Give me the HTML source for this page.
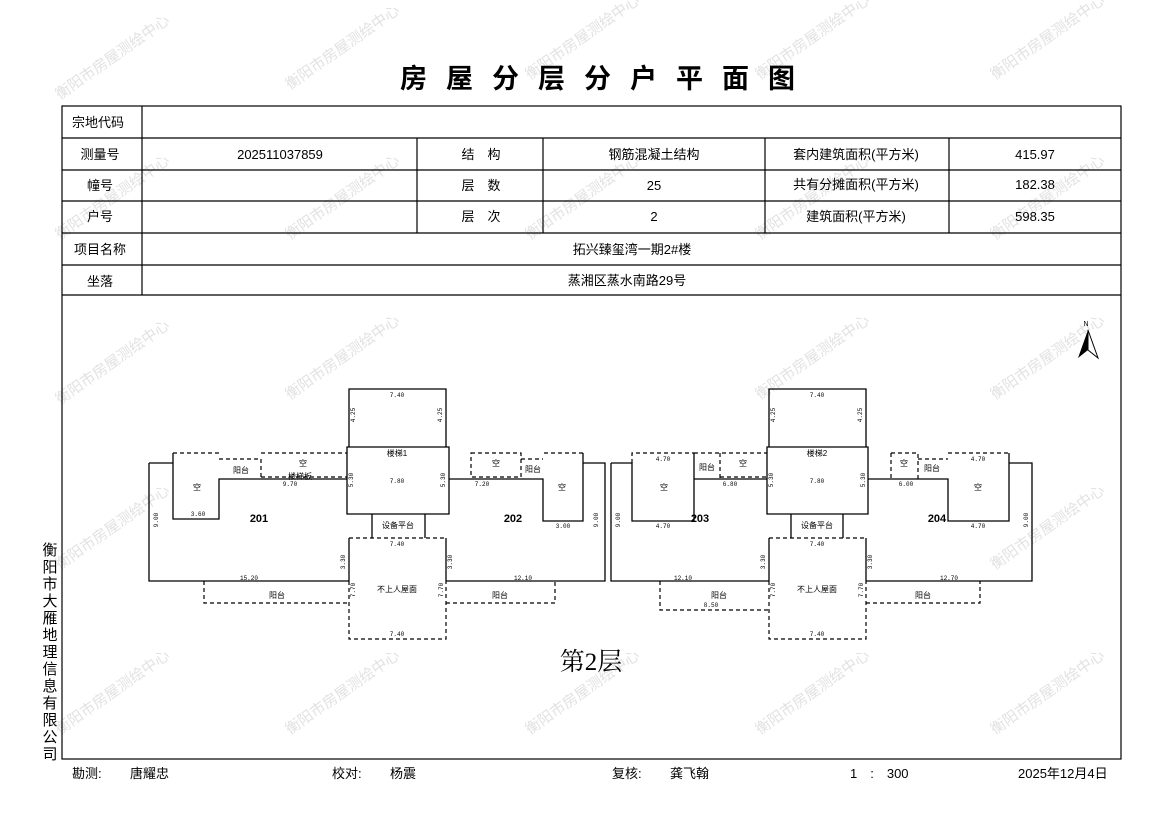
<!DOCTYPE html>
<html><head><meta charset="utf-8"><style>
html,body{margin:0;padding:0;background:#fff}
svg{display:block;font-family:"Liberation Sans","Noto Sans CJK SC",sans-serif}
.s{stroke:#000;stroke-width:1.3;fill:none}
.d{stroke:#000;stroke-width:1.2;fill:none;stroke-dasharray:4 3}
.t{font-size:13px;fill:#000}
.n{font-size:6px;fill:#000;font-family:"Liberation Mono",monospace}
.l{font-size:8px;fill:#000}
.w{font-size:15px;fill:#e2e2e2}
</style></head><body>
<svg width="1169" height="827" viewBox="0 0 1169 827" xmlns="http://www.w3.org/2000/svg">
<g class="w">
<text transform="translate(60,100) rotate(-35)">衡阳市房屋测绘中心</text>
<text transform="translate(290,90) rotate(-35)">衡阳市房屋测绘中心</text>
<text transform="translate(530,80) rotate(-35)">衡阳市房屋测绘中心</text>
<text transform="translate(760,80) rotate(-35)">衡阳市房屋测绘中心</text>
<text transform="translate(995,80) rotate(-35)">衡阳市房屋测绘中心</text>
<text transform="translate(60,240) rotate(-35)">衡阳市房屋测绘中心</text>
<text transform="translate(290,240) rotate(-35)">衡阳市房屋测绘中心</text>
<text transform="translate(530,240) rotate(-35)">衡阳市房屋测绘中心</text>
<text transform="translate(760,240) rotate(-35)">衡阳市房屋测绘中心</text>
<text transform="translate(995,240) rotate(-35)">衡阳市房屋测绘中心</text>
<text transform="translate(60,405) rotate(-35)">衡阳市房屋测绘中心</text>
<text transform="translate(290,400) rotate(-35)">衡阳市房屋测绘中心</text>
<text transform="translate(760,400) rotate(-35)">衡阳市房屋测绘中心</text>
<text transform="translate(995,400) rotate(-35)">衡阳市房屋测绘中心</text>
<text transform="translate(60,570) rotate(-35)">衡阳市房屋测绘中心</text>
<text transform="translate(995,570) rotate(-35)">衡阳市房屋测绘中心</text>
<text transform="translate(60,735) rotate(-35)">衡阳市房屋测绘中心</text>
<text transform="translate(290,735) rotate(-35)">衡阳市房屋测绘中心</text>
<text transform="translate(530,735) rotate(-35)">衡阳市房屋测绘中心</text>
<text transform="translate(760,735) rotate(-35)">衡阳市房屋测绘中心</text>
<text transform="translate(995,735) rotate(-35)">衡阳市房屋测绘中心</text>
</g>
<text x="607" y="88" text-anchor="middle" style="font-size:27px;font-weight:bold;letter-spacing:19px">房屋分层分户平面图</text>
<g stroke="#000" stroke-width="1.2" fill="none">
<rect x="62" y="106" width="1059" height="653"/>
<line x1="62" y1="138" x2="1121" y2="138"/><line x1="62" y1="170" x2="1121" y2="170"/>
<line x1="62" y1="201" x2="1121" y2="201"/><line x1="62" y1="233" x2="1121" y2="233"/>
<line x1="62" y1="265" x2="1121" y2="265"/><line x1="62" y1="295" x2="1121" y2="295"/>
<line x1="142" y1="106" x2="142" y2="295"/>
<line x1="417" y1="138" x2="417" y2="233"/><line x1="543" y1="138" x2="543" y2="233"/>
<line x1="765" y1="138" x2="765" y2="233"/><line x1="949" y1="138" x2="949" y2="233"/>
</g>
<g class="t" text-anchor="middle">
<text x="98" y="127">宗地代码</text>
<text x="100" y="159">测量号</text><text x="280" y="159">202511037859</text>
<text x="481" y="159">结　构</text><text x="654" y="159">钢筋混凝土结构</text>
<text x="856" y="159">套内建筑面积(平方米)</text><text x="1035" y="159">415.97</text>
<text x="100" y="190">幢号</text><text x="481" y="190">层　数</text><text x="654" y="190">25</text>
<text x="856" y="189">共有分摊面积(平方米)</text><text x="1035" y="189">182.38</text>
<text x="100" y="221">户号</text><text x="481" y="221">层　次</text><text x="654" y="221">2</text>
<text x="856" y="221">建筑面积(平方米)</text><text x="1035" y="221">598.35</text>
<text x="100" y="254">项目名称</text><text x="632" y="254">拓兴臻玺湾一期2#楼</text>
<text x="100" y="286">坐落</text><text x="627" y="285">蒸湘区蒸水南路29号</text>
</g>
<!-- Left building -->
<path class="s" d="M149,463 H173 M173,453 V519 H219 V479 H347 M149,463 V581 H349 M446,581 H605 V463 H583 M583,453 V521 H543 V479 H449"/>
<path class="s" d="M349,447 V389 H446 V447 M347,447 V514 H449 V447 Z M372,514 V538 M425,514 V538 M349,538 V581 M446,538 V581"/>
<path class="d" d="M173,453 H219 M219,459 H261 V479 M261,453 H347 M261,477 H347 M204,581 V603 H349 M349,581 V639 H446 V581 M349,538 H446 M446,603 H555 V581 M583,453 H543 M471,453 H521 V477 H471 Z M521,459 H543"/>
<!-- Right building -->
<path class="s" d="M611,463 V581 H769 M694,453 V521 H632 V463 H611 M694,479 H767 M769,447 V389 H866 V447 M767,447 V514 H868 V447 Z M791,514 V538 M843,514 V538 M769,538 V581 M866,538 V581 M866,581 H1032 V463 H1009 M1009,453 V521 H948 V479 H868"/>
<path class="d" d="M632,463 V453 H694 M694,453 H767 M720,453 V479 M720,477 H767 M660,581 V610 H769 M769,581 V639 H866 V581 M769,538 H866 M866,603 H980 V581 M891,453 H918 V479 M891,453 V479 M918,459 H948 M948,453 H1009"/>
<g class="l" text-anchor="middle">
<text x="197" y="490">空</text><text x="241" y="473">阳台</text><text x="303" y="466">空</text><text x="300" y="479">楼梯板</text>
<text x="397" y="456">楼梯1</text><text x="398" y="528">设备平台</text><text x="397" y="592">不上人屋面</text>
<text x="277" y="598">阳台</text><text x="500" y="598">阳台</text><text x="496" y="466">空</text><text x="562" y="490">空</text><text x="533" y="472">阳台</text>
<text x="664" y="490">空</text><text x="707" y="470">阳台</text><text x="743" y="466">空</text>
<text x="817" y="456">楼梯2</text><text x="817" y="528">设备平台</text><text x="817" y="592">不上人屋面</text>
<text x="719" y="598">阳台</text><text x="923" y="598">阳台</text><text x="904" y="466">空</text><text x="932" y="471">阳台</text><text x="978" y="490">空</text>
</g>
<g class="n" text-anchor="middle">
<text x="397" y="397">7.40</text><text x="397" y="483">7.80</text><text x="397" y="546">7.40</text><text x="397" y="636">7.40</text>
<text x="290" y="486">9.70</text><text x="198" y="516">3.60</text><text x="249" y="580">15.20</text><text x="523" y="580">12.10</text><text x="482" y="486">7.20</text><text x="563" y="528">3.00</text>
<text x="817" y="397">7.40</text><text x="817" y="483">7.80</text><text x="817" y="546">7.40</text><text x="817" y="636">7.40</text>
<text x="663" y="461">4.70</text><text x="663" y="528">4.70</text><text x="730" y="486">6.80</text><text x="683" y="580">12.10</text><text x="711" y="607">8.50</text>
<text x="906" y="486">6.00</text><text x="978" y="461">4.70</text><text x="978" y="528">4.70</text><text x="949" y="580">12.70</text>
</g>
<g class="n" text-anchor="middle">
<text transform="translate(158,520) rotate(-90)">9.00</text><text transform="translate(598,520) rotate(-90)">9.00</text>
<text transform="translate(620,520) rotate(-90)">9.00</text><text transform="translate(1028,520) rotate(-90)">9.00</text>
<text transform="translate(355,415) rotate(-90)">4.25</text><text transform="translate(442,415) rotate(-90)">4.25</text>
<text transform="translate(775,415) rotate(-90)">4.25</text><text transform="translate(862,415) rotate(-90)">4.25</text>
<text transform="translate(353,480) rotate(-90)">5.30</text><text transform="translate(445,480) rotate(-90)">5.30</text>
<text transform="translate(773,480) rotate(-90)">5.30</text><text transform="translate(865,480) rotate(-90)">5.30</text>
<text transform="translate(345,562) rotate(-90)">3.30</text><text transform="translate(452,562) rotate(-90)">3.30</text>
<text transform="translate(765,562) rotate(-90)">3.30</text><text transform="translate(872,562) rotate(-90)">3.30</text>
<text transform="translate(355,590) rotate(-90)">7.70</text><text transform="translate(775,590) rotate(-90)">7.70</text>
<text transform="translate(443,590) rotate(-90)">7.70</text><text transform="translate(863,590) rotate(-90)">7.70</text>
</g>
<g style="font-size:11px;font-weight:bold" text-anchor="middle">
<text x="259" y="522">201</text><text x="513" y="522">202</text><text x="700" y="522">203</text><text x="937" y="522">204</text>
</g>
<text x="591" y="670" text-anchor="middle" style="font-size:25px;font-family:'Liberation Serif','Noto Serif CJK SC',serif">第2层</text>
<text x="1086" y="326" text-anchor="middle" style="font-size:7px">N</text>
<path d="M1088,330 L1078,358 L1088,350 Z" fill="#000"/><path d="M1088,330 L1098,358 L1088,350 Z" fill="none" stroke="#000"/>
<g style="font-size:15px" text-anchor="middle">
<text x="50" y="555">衡</text><text x="50" y="572">阳</text><text x="50" y="589">市</text><text x="50" y="606">大</text><text x="50" y="623">雁</text><text x="50" y="640">地</text><text x="50" y="657">理</text><text x="50" y="674">信</text><text x="50" y="691">息</text><text x="50" y="708">有</text><text x="50" y="725">限</text><text x="50" y="742">公</text><text x="50" y="759">司</text>
</g>
<g class="t">
<text x="72" y="778">勘测:</text><text x="130" y="778">唐耀忠</text>
<text x="332" y="778">校对:</text><text x="390" y="778">杨震</text>
<text x="612" y="778">复核:</text><text x="670" y="778">龚飞翰</text>
<text x="850" y="778">1　:　300</text><text x="1018" y="778">2025年12月4日</text>
</g>
</svg>
</body></html>
